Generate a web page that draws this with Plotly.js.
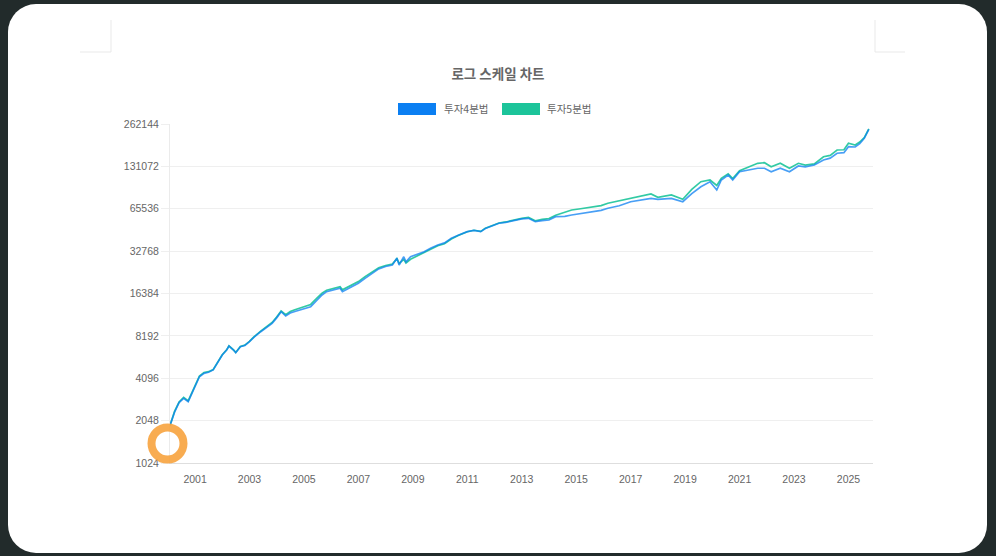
<!DOCTYPE html>
<html>
<head>
<meta charset="utf-8">
<script src="https://cdn.plot.ly/plotly-3.0.1.min.js"></script>
<style>
  html, body { margin: 0; padding: 0; width: 996px; height: 556px; background: #222b2b; overflow: hidden; }
  #card { position: absolute; left: 8px; top: 4px; width: 979px; height: 549px; background: #ffffff; border-radius: 28px; }
  #chart { position: absolute; left: 0; top: 0; width: 996px; height: 556px; }
</style>
</head>
<body>
<div id="card"></div>
<div id="chart"></div>
<script>
const chartTitle = '로그 스케일 차트';
const seriesNames = ['투자4분법', '투자5분법'];
const seriesColors = ['#0b7ff2', '#1cc49a'];

const dates = [
  '2000-02','2000-04','2000-06','2000-08','2000-10','2000-12',
  '2001-01','2001-03','2001-05','2001-07','2001-09','2001-11',
  '2002-01','2002-03','2002-04','2002-06','2002-07','2002-09','2002-11',
  '2003-01','2003-03','2003-06','2003-08','2003-11',
  '2004-01','2004-03','2004-05','2004-07','2004-09','2004-12',
  '2005-04','2005-07','2005-09','2005-11',
  '2006-02','2006-05','2006-06','2006-09',
  '2007-01','2007-04','2007-07','2007-10',
  '2008-01','2008-04','2008-06','2008-07','2008-09','2008-10','2008-12',
  '2009-03','2009-06','2009-09','2009-12',
  '2010-03','2010-06','2010-09',
  '2011-01','2011-04','2011-07','2011-09','2011-12',
  '2012-03','2012-06','2012-10',
  '2013-01','2013-04','2013-07','2013-10',
  '2014-01','2014-04','2014-08','2014-11',
  '2015-03','2015-08','2015-12',
  '2016-03','2016-08',
  '2017-01','2017-05','2017-10',
  '2018-01','2018-07','2018-12',
  '2019-04','2019-08','2019-12',
  '2020-03','2020-05','2020-08','2020-10',
  '2021-01','2021-05','2021-09','2021-12',
  '2022-03','2022-07','2022-11',
  '2023-03','2023-06','2023-10',
  '2024-02','2024-05','2024-08','2024-11',
  '2025-01','2025-04','2025-06','2025-08','2025-10'
];

const invest4 = [
  1900, 2350, 2750, 2950, 2790, 3300,
  3670, 4200, 4440, 4520, 4690, 5300,
  5990, 6500, 6940, 6500, 6220, 6860, 7000,
  7450, 8000, 8770, 9300, 10060,
  11000, 12170, 11340, 11900, 12200, 12600,
  13200, 14800, 16000, 16880,
  17400, 17840, 16880, 17900,
  19360, 21000, 22800, 24500,
  25500, 26120, 29140, 26100, 29900, 27500, 29900,
  31000, 32450, 34500, 36230,
  37500, 40430, 42500,
  45040, 46000, 45040, 47500, 49500,
  51670, 52500, 54540,
  55500, 56070, 53020, 54000,
  54540, 57540, 57800, 59190,
  60500, 62460, 63800,
  66050, 68800,
  73520, 75200, 77720,
  76490, 77720, 73520,
  84000, 94000, 101990,
  89090, 104860, 113770, 104860,
  120120, 124000, 127080, 127080,
  120120, 127080, 120120,
  131890, 130000, 134040,
  145510, 150000, 162410, 164000,
  180840, 180000, 190000, 207570, 240440
];

const invest5 = [
  1900, 2380, 2780, 3000, 2830, 3350,
  3700, 4250, 4500, 4560, 4720, 5350,
  6020, 6520, 6960, 6520, 6250, 6880, 7050,
  7480, 8050, 8850, 9400, 10200,
  11150, 12300, 11600, 12200, 12550, 13000,
  13700, 15300, 16500, 17300,
  17900, 18300, 17400, 18400,
  19900, 21600, 23400, 25000,
  25900, 26500, 29000, 26800, 28600, 27000, 28700,
  30300, 32000, 34000, 35800,
  37000, 40000, 42300,
  45000, 46100, 45300, 47700, 49800,
  51900, 52800, 54900,
  56000, 56800, 53800, 55000,
  55800, 59000, 61500, 64200,
  65500, 67800, 69000,
  71680, 74500,
  77720, 80000, 83460,
  79050, 82130, 76490,
  90000, 101990, 104860,
  96000, 107830, 116000, 107500,
  122000, 130000, 137830, 139160,
  130360, 137830, 127080,
  137830, 134000, 136500,
  153500, 157000, 171320, 172000,
  191180, 186000, 195000, 210000, 242000
];

const yTickVals = [1024, 2048, 4096, 8192, 16384, 32768, 65536, 131072, 262144];
const yTickText = ['1024', '2048', '4096', '8192', '16384', '32768', '65536', '131072', '262144'];

const W = 996, H = 556;
const M = {l: 170, r: 123, t: 124, b: 93};
const PW = W - M.l - M.r, PH = H - M.t - M.b;
const px = x => (x - M.l) / PW;           // page x -> paper x
const py = y => (H - M.b - y) / PH;       // page y -> paper y

const traces = [
  {
    x: dates, y: invest5, name: seriesNames[1], type: 'scatter', mode: 'lines',
    line: {color: seriesColors[1], width: 1.7}, opacity: 0.9, showlegend: false
  },
  {
    x: dates, y: invest4, name: seriesNames[0], type: 'scatter', mode: 'lines',
    line: {color: seriesColors[0], width: 1.7}, opacity: 0.75, showlegend: false
  }
];

const tickFont = {family: 'Liberation Sans, Arial, sans-serif', size: 10.5, color: '#666666'};
const grey = '#e9e9e9';

const shapes = [
  // legend boxes
  {type: 'rect', xref: 'paper', yref: 'paper', x0: px(398), x1: px(436), y0: py(115), y1: py(103),
   fillcolor: seriesColors[0], line: {width: 0}},
  {type: 'rect', xref: 'paper', yref: 'paper', x0: px(502), x1: px(540), y0: py(115), y1: py(103),
   fillcolor: seriesColors[1], line: {width: 0}},
  // corner marks
  {type: 'line', xref: 'paper', yref: 'paper', x0: px(111), x1: px(111), y0: py(20), y1: py(52), line: {color: grey, width: 1}},
  {type: 'line', xref: 'paper', yref: 'paper', x0: px(80), x1: px(111), y0: py(52), y1: py(52), line: {color: grey, width: 1}},
  {type: 'line', xref: 'paper', yref: 'paper', x0: px(875), x1: px(875), y0: py(20), y1: py(52), line: {color: grey, width: 1}},
  {type: 'line', xref: 'paper', yref: 'paper', x0: px(875), x1: px(905), y0: py(52), y1: py(52), line: {color: grey, width: 1}},
  // click indicator ring
  {type: 'circle', xref: 'paper', yref: 'paper', layer: 'above',
   xsizemode: 'pixel', ysizemode: 'pixel', xanchor: px(167.5), yanchor: py(443.5),
   x0: -16, x1: 16, y0: -16, y1: 16, line: {color: 'rgba(247,163,62,0.9)', width: 8}}
];

const annotations = [
  {xref: 'paper', yref: 'paper', x: px(442), y: py(109), xanchor: 'left', yanchor: 'middle', showarrow: false,
   text: seriesNames[0], font: {family: 'Noto Sans CJK KR, sans-serif', size: 10.5, color: '#666666'}},
  {xref: 'paper', yref: 'paper', x: px(545), y: py(109), xanchor: 'left', yanchor: 'middle', showarrow: false,
   text: seriesNames[1], font: {family: 'Noto Sans CJK KR, sans-serif', size: 10.5, color: '#666666'}}
];

const layout = {
  width: W, height: H,
  margin: M,
  paper_bgcolor: 'rgba(0,0,0,0)',
  plot_bgcolor: 'rgba(0,0,0,0)',
  showlegend: false,
  title: {
    text: chartTitle, xref: 'container', x: 0.5, xanchor: 'center',
    yref: 'container', y: 1 - 74 / H, yanchor: 'middle',
    font: {family: 'Noto Sans CJK KR, sans-serif', size: 13.5, color: '#666666', weight: 'bold'}
  },
  xaxis: {
    type: 'date',
    range: ['2000-01-31', '2025-11-26'],
    tick0: '2001-01-01', dtick: 'M24', tickformat: '%Y',
    showgrid: false, zeroline: false,
    showline: true, linecolor: '#dedede', linewidth: 1,
    ticks: 'outside', ticklen: 6, tickcolor: 'rgba(0,0,0,0)',
    tickfont: tickFont
  },
  yaxis: {
    type: 'log',
    range: [Math.log10(1024), Math.log10(262144)],
    tickmode: 'array', tickvals: yTickVals, ticktext: yTickText,
    showgrid: true, gridcolor: '#efefef', gridwidth: 1,
    zeroline: false,
    showline: true, linecolor: '#ebebeb', linewidth: 1,
    ticks: 'outside', ticklen: 8, tickcolor: '#efefef',
    tickfont: tickFont
  },
  shapes: shapes,
  annotations: annotations
};

Plotly.newPlot('chart', traces, layout, {displayModeBar: false, staticPlot: true});
</script>
</body>
</html>
